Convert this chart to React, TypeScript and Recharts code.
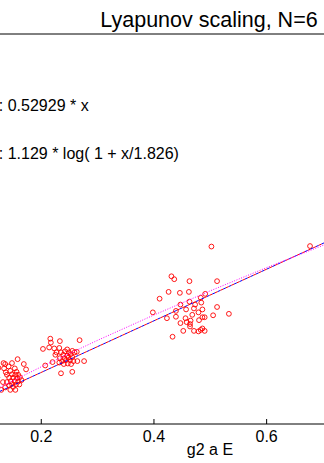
import React from 'react';
import { ScatterChart, Scatter, XAxis, YAxis } from 'recharts';

const FONT = '"Liberation Sans", Arial, Helvetica, sans-serif';

// x ticks that fall inside the cropped view
const xTicks = [0.2, 0.4, 0.6];

// measured points, [g2 a E, lyapunov] per cluster
const lowCluster: [number, number][] = [
  [0.136, 0.123], [0.148, 0.125], [0.158, 0.133], [0.169, 0.123], [0.173, 0.112],
  [0.134, 0.114], [0.142, 0.118], [0.137, 0.106], [0.145, 0.109], [0.153, 0.114],
  [0.156, 0.107], [0.139, 0.101], [0.148, 0.102], [0.154, 0.101], [0.159, 0.101],
  [0.162, 0.096], [0.143, 0.095], [0.150, 0.095], [0.157, 0.094], [0.165, 0.090],
  [0.132, 0.086], [0.139, 0.086], [0.146, 0.088], [0.153, 0.088], [0.159, 0.087],
  [0.148, 0.082], [0.155, 0.081], [0.161, 0.081], [0.143, 0.079], [0.150, 0.076],
  [0.129, 0.070], [0.136, 0.075], [0.145, 0.070], [0.154, 0.070], [0.133, 0.125],
  [0.124, 0.115], [0.122, 0.095],
];

const midCluster: [number, number][] = [
  [0.216, 0.175], [0.217, 0.167], [0.233, 0.170], [0.268, 0.172], [0.203, 0.154],
  [0.214, 0.157], [0.223, 0.155], [0.232, 0.156], [0.246, 0.153], [0.227, 0.147],
  [0.235, 0.147], [0.242, 0.149], [0.249, 0.147], [0.255, 0.150], [0.259, 0.147],
  [0.225, 0.142], [0.239, 0.142], [0.246, 0.140], [0.252, 0.143], [0.263, 0.148],
  [0.233, 0.135], [0.241, 0.135], [0.248, 0.136], [0.255, 0.137], [0.237, 0.129],
  [0.244, 0.131], [0.251, 0.131], [0.257, 0.129], [0.240, 0.123], [0.247, 0.124],
  [0.253, 0.123], [0.232, 0.126], [0.207, 0.120], [0.276, 0.129], [0.235, 0.104],
  [0.255, 0.107], [0.220, 0.127], [0.264, 0.129],
];

const highCluster: [number, number][] = [
  [0.502, 0.364], [0.677, 0.365], [0.431, 0.303], [0.436, 0.297], [0.463, 0.293],
  [0.512, 0.293], [0.426, 0.271], [0.446, 0.269], [0.462, 0.271], [0.491, 0.267],
  [0.410, 0.257], [0.483, 0.259], [0.463, 0.251], [0.447, 0.245], [0.473, 0.245],
  [0.484, 0.249], [0.398, 0.229], [0.439, 0.232], [0.457, 0.235], [0.471, 0.237],
  [0.486, 0.235], [0.512, 0.240], [0.479, 0.229], [0.439, 0.220], [0.423, 0.217],
  [0.468, 0.224], [0.505, 0.223], [0.533, 0.226], [0.456, 0.217], [0.486, 0.219],
  [0.490, 0.219], [0.480, 0.213], [0.447, 0.207], [0.458, 0.209], [0.465, 0.212],
  [0.464, 0.205], [0.464, 0.200], [0.452, 0.191], [0.471, 0.191], [0.479, 0.190],
  [0.483, 0.193], [0.486, 0.196], [0.490, 0.191], [0.433, 0.179],
];

// fit curves, values as listed in the legend
const linearFit: [number, number][] = [[0, 0], [1, 0.5293]];
const logFit: [number, number][] = [
  [0, 0], [0.1, 0.0602], [0.2, 0.1173], [0.3, 0.1717], [0.4, 0.2236], [0.5, 0.2732],
  [0.6, 0.3208], [0.7, 0.3664], [0.8, 0.4102], [0.9, 0.4524], [1, 0.4931],
];

const toXY = (rows: [number, number][]) => rows.map(([x, y]) => ({ x, y }));
const points = toXY([...lowCluster, ...midCluster, ...highCluster]);

const Ring = (props: any) => (
  <circle cx={props.cx} cy={props.cy} r={2.4} fill="none" stroke="#ff0000" strokeWidth={0.9} />
);
const NoDot = () => <g />;

// inward tick + label under the bottom axis
const BottomTick = (props: any) => {
  const { x, y, payload } = props;
  return (
    <g>
      <line x1={x} y1={y} x2={x} y2={y - 5} stroke="#000" />
      <text x={x} y={y + 18} textAnchor="middle" fontSize={16} fontFamily={FONT} fill="#000">
        {payload.value}
      </text>
    </g>
  );
};

const TopTick = (props: any) => {
  const { x, y } = props;
  return <line x1={x} y1={y} x2={x} y2={y + 6} stroke="#000" />;
};

export default function App() {
  return (
    <div
      style={{
        position: 'absolute',
        left: 0,
        top: 0,
        width: 324,
        height: 463,
        overflow: 'hidden',
        background: '#fff',
      }}
    >
      <div style={{ position: 'absolute', left: -100, top: 0 }}>
        <ScatterChart width={620} height={463} margin={{ top: 4, right: 28, bottom: 9, left: 28.6 }}>
          <XAxis
            dataKey="x"
            type="number"
            domain={[0, 1]}
            ticks={xTicks}
            interval={0}
            height={30}
            tickSize={0}
            tickMargin={0}
            tickLine={false}
            axisLine={{ stroke: '#000' }}
            tick={<BottomTick />}
          />
          <XAxis
            xAxisId="top"
            orientation="top"
            type="number"
            domain={[0, 1]}
            ticks={xTicks}
            interval={0}
            height={30}
            tickSize={0}
            tickMargin={0}
            tickLine={false}
            axisLine={{ stroke: '#000' }}
            tick={<TopTick />}
          />
          <YAxis dataKey="y" type="number" domain={[0, 0.8]} hide />
          <Scatter data={points} shape={<Ring />} isAnimationActive={false} />
          <Scatter
            data={toXY(linearFit)}
            shape={<NoDot />}
            line={{ stroke: '#0000ff', strokeWidth: 1, strokeDasharray: '3 3' }}
            isAnimationActive={false}
          />
          <Scatter
            data={toXY(linearFit)}
            shape={<NoDot />}
            line={{ stroke: '#ff0000', strokeWidth: 1, strokeDasharray: '3 3', strokeDashoffset: 3 }}
            isAnimationActive={false}
          />
          <Scatter
            data={toXY(logFit)}
            shape={<NoDot />}
            line={{ stroke: '#ff00ff', strokeWidth: 1, strokeDasharray: '1 1.5' }}
            isAnimationActive={false}
          />
        </ScatterChart>
      </div>
      <svg
        width={324}
        height={463}
        style={{ position: 'absolute', left: 0, top: 0, pointerEvents: 'none' }}
        fontFamily={FONT}
      >
        <text x={209} y={27} textAnchor="middle" fontSize={21.5} fill="#000">
          Lyapunov scaling, N=6
        </text>
        <text x={-1.2} y={111} fontSize={16} fill="#000">
          : 0.52929 * x
        </text>
        <text x={-1.2} y={159} fontSize={16} fill="#000">
          : 1.129 * log( 1 + x/1.826)
        </text>
        <text x={210} y={455} textAnchor="middle" fontSize={16} fill="#000">
          g2 a E
        </text>
      </svg>
    </div>
  );
}
